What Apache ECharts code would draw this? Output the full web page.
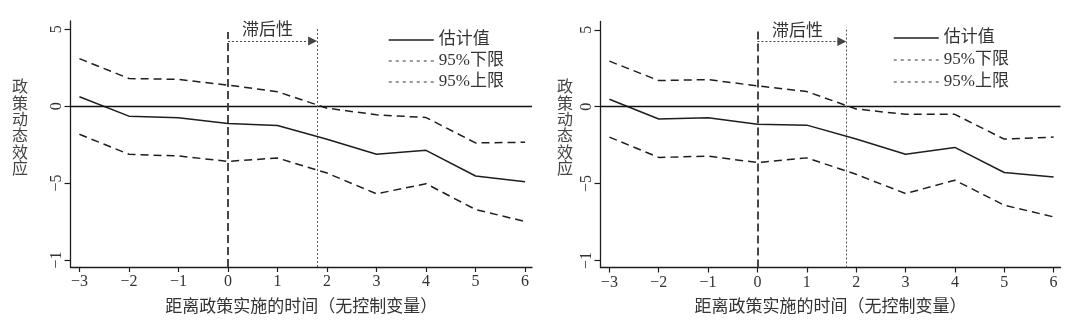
<!DOCTYPE html>
<html>
<head>
<meta charset="utf-8">
<script src="https://cdn.jsdelivr.net/npm/echarts@6/dist/echarts.min.js"></script>
<style>
  html, body { margin: 0; padding: 0; background: #fff; }
  #chart { width: 1080px; height: 323px; }
</style>
</head>
<body>
<div id="chart"></div>
<script>
// Event time relative to the policy start
const years = [-3, -2, -1, 0, 1, 2, 3, 4, 5, 6];

// Left panel: estimates and 95% bounds
const estA = [0.61, -0.65, -0.76, -1.13, -1.26, -2.15, -3.13, -2.87, -4.54, -4.91];
const upA  = [3.09, 1.80, 1.74, 1.37, 0.94, -0.13, -0.56, -0.74, -2.39, -2.35];
const lowA = [-1.83, -3.13, -3.24, -3.59, -3.37, -4.35, -5.70, -5.04, -6.72, -7.50];

// Right panel: estimates and 95% bounds
const estB = [0.48, -0.80, -0.72, -1.15, -1.20, -2.10, -3.09, -2.65, -4.28, -4.57];
const upB  = [2.96, 1.70, 1.76, 1.35, 0.98, -0.15, -0.50, -0.50, -2.11, -1.98];
const lowB = [-1.98, -3.30, -3.22, -3.63, -3.33, -4.40, -5.65, -4.78, -6.41, -7.17];

// Axis ticks and labels
const xTicks = years;
const yTicks = [5, 0, -5, -10];
const yTickLabels = ['5', '0', '−5', '−1'];

// Lag window marked on the chart
const lagStart = 0;
const lagEnd = 1.8;
const lagText = '滞后性';

const names = { est: '估计值', low: '95%下限', up: '95%上限' };
const xTitle = '距离政策实施的时间（无控制变量）';
const yTitle = '政策动态效应';

const LATIN = "'Liberation Serif', 'Noto Sans CJK SC', serif";
const INK = '#1e1e1e';
const TEXT = '#333';

const X_MIN = -3.18, X_MAX = 6.14;
const Y_MIN = -10.46, Y_MAX = 5.54;

function pairs(vals) { return years.map((x, i) => [x, vals[i]]); }
function fmtNum(v) { return v < 0 ? '−' + Math.abs(v) : String(v); }

function xAxisFor(gi) {
  return {
    type: 'value', gridIndex: gi, min: X_MIN, max: X_MAX,
    splitLine: { show: false },
    axisLine: { onZero: false, lineStyle: { color: INK, width: 1.3 } },
    axisTick: { customValues: xTicks, length: 5, lineStyle: { color: INK, width: 1.2 } },
    axisLabel: {
      customValues: xTicks, formatter: fmtNum, margin: 7,
      fontFamily: LATIN, fontSize: 16, color: TEXT
    },
    name: xTitle, nameLocation: 'middle', nameGap: 32,
    nameTextStyle: { fontFamily: LATIN, fontSize: 17, color: TEXT }
  };
}

function yAxisFor(gi) {
  return {
    type: 'value', gridIndex: gi, min: Y_MIN, max: Y_MAX,
    splitLine: { show: false },
    axisLine: { onZero: false, lineStyle: { color: INK, width: 1.3 } },
    axisTick: { customValues: yTicks, length: 6, lineStyle: { color: INK, width: 1.2 } },
    axisLabel: {
      customValues: yTicks, rotate: 90, margin: 6,
      formatter: v => yTickLabels[yTicks.indexOf(v)],
      fontFamily: LATIN, fontSize: 16, color: TEXT
    }
  };
}

function panelSeries(gi, est, low, up, marks) {
  const base = { type: 'line', xAxisIndex: gi, yAxisIndex: gi, symbol: 'none', silent: true, animation: false };
  const dashed = { color: INK, width: 1.5, type: [8, 5] };
  return [
    Object.assign({}, base, {
      name: names.est, data: pairs(est),
      lineStyle: { color: INK, width: 1.5, type: 'solid' },
      itemStyle: { color: INK },
      markLine: {
        silent: true, symbol: ['none', 'none'], label: { show: false }, animation: false,
        data: [
          { yAxis: 0, lineStyle: { color: '#111', width: 1.3, type: 'solid' } },
          [
            { coord: [lagStart, Y_MIN], lineStyle: { color: '#333', width: 1.8, type: [8, 4] } },
            { coord: [lagStart, marks.dashTop] }
          ],
          [
            { coord: [lagEnd, Y_MIN], lineStyle: { color: '#555', width: 1, type: [2, 2] } },
            { coord: [lagEnd, marks.dotTop] }
          ],
          [
            { coord: [lagStart, marks.arrowY], symbol: 'none', lineStyle: { color: '#444', width: 1.2, type: [2, 2] } },
            { coord: [lagEnd - 0.09, marks.arrowY], symbol: 'triangle', symbolSize: [9, 9] }
          ]
        ]
      },
      markPoint: {
        silent: true, animation: false, symbol: 'circle', symbolSize: 0,
        data: [{ coord: [marks.textX, marks.textY] }],
        label: {
          show: true, position: 'inside', formatter: lagText,
          fontFamily: LATIN, fontSize: 17, color: TEXT
        },
        itemStyle: { color: 'transparent' }
      }
    }),
    Object.assign({}, base, { name: names.low, data: pairs(low), lineStyle: dashed, itemStyle: { color: INK } }),
    Object.assign({}, base, { name: names.up, data: pairs(up), lineStyle: dashed, itemStyle: { color: INK } })
  ];
}

function legendFor(left, top, gap) {
  const dotted = { color: '#333', width: 1.2, type: [3, 4] };
  const noMarker = { opacity: 0 };
  return {
    orient: 'vertical', left: left, top: top, padding: 0,
    itemWidth: 45, itemHeight: 14, itemGap: gap, selectedMode: false,
    itemStyle: noMarker,
    textStyle: { fontFamily: LATIN, fontSize: 17, color: TEXT, lineHeight: 20 },
    data: [
      { name: names.est, itemStyle: noMarker, lineStyle: { color: INK, width: 1.5, type: 'solid' } },
      { name: names.low, itemStyle: noMarker, lineStyle: dotted },
      { name: names.up, itemStyle: noMarker, lineStyle: dotted }
    ]
  };
}

function yTitleGraphic(x, y) {
  return {
    type: 'text', left: x, top: y, silent: true,
    style: {
      text: yTitle.split('').join('\n'),
      font: "16px 'Noto Sans CJK SC'", fill: '#444', lineHeight: 16.4
    }
  };
}

const chart = echarts.init(document.getElementById('chart'), null, { renderer: 'canvas' });
chart.setOption({
  backgroundColor: '#fff',
  animation: false,
  grid: [
    { left: 70.5, top: 21, width: 461.5, height: 246 },
    { left: 600.5, top: 21.5, width: 460, height: 246 }
  ],
  xAxis: [xAxisFor(0), xAxisFor(1)],
  yAxis: [yAxisFor(0), yAxisFor(1)],
  legend: [legendFor(388, 30, 1), legendFor(893, 28, 2)],
  graphic: [yTitleGraphic(12, 78), yTitleGraphic(557, 78)],
  series: [
    ...panelSeries(0, estA, lowA, upA, { dashTop: 4.82, dotTop: 5.08, arrowY: 4.24, textX: 0.8, textY: 4.95 }),
    ...panelSeries(1, estB, lowB, upB, { dashTop: 4.95, dotTop: 5.17, arrowY: 4.24, textX: 0.81, textY: 4.92 })
  ]
});
</script>
</body>
</html>
